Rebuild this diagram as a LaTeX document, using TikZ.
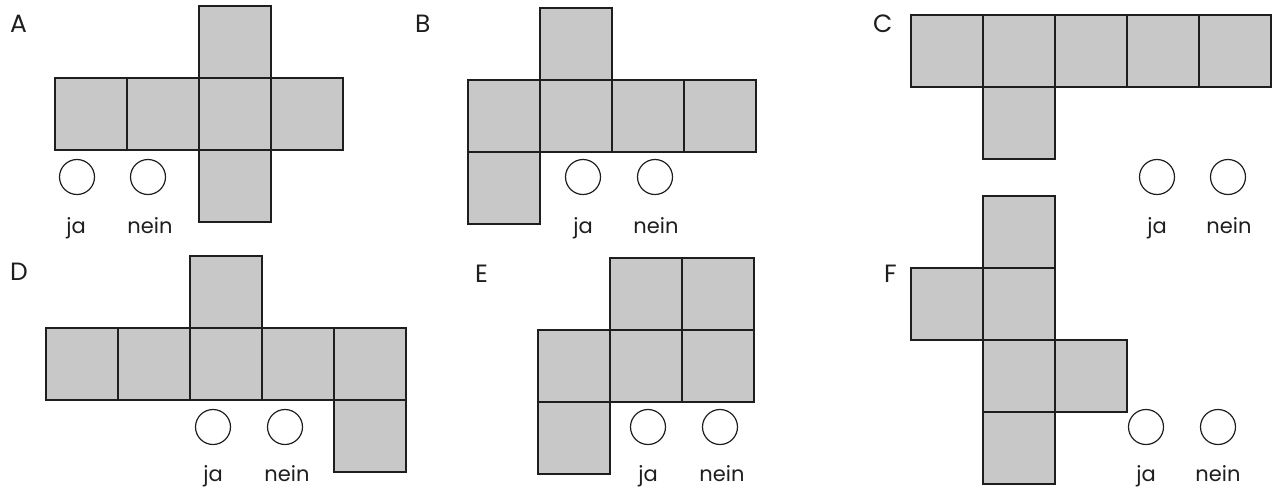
\documentclass[tikz,border=0pt]{standalone}
\usepackage{fontspec}
\setmainfont{Poppins}
\definecolor{facegray}{HTML}{C8C8C8}
\definecolor{inkline}{HTML}{1E1E1E}
\begin{document}
\begin{tikzpicture}[x=1pt,y=-1pt,
  face/.style={draw=inkline,fill=facegray,line width=1.4pt,minimum size=72pt,inner sep=0pt,outer sep=0pt,shape=rectangle},
  tick/.style={draw=inkline,line width=1.2pt,circle,minimum size=35pt,inner sep=0pt},
  lbl/.style={font=\fontsize{21}{25}\selectfont,anchor=base,inner sep=0pt,text=inkline},
  ttl/.style={font=\fontsize{25}{29}\selectfont,anchor=base west,inner sep=0pt,text=inkline}]
\useasboundingbox (0,0) rectangle (1279,488);
% A
\node[ttl] (tA) at (10,32) {A};
\node[face] (a1) at (91,114) {};
\node[face] (a2) at (163,114) {};
\node[face] (a3) at (235,114) {};
\node[face] (a4) at (307,114) {};
\node[face] (a5) at (235,42) {};
\node[face] (a6) at (235,186) {};
\node[tick] (ca1) at (77,177) {};
\node[tick] (ca2) at (148,177) {};
\node[lbl] (ja1) at (76,233) {ja};
\node[lbl] (ne1) at (150,233) {nein};
% B
\node[ttl] (tB) at (415,32) {B};
\node[face] (b1) at (504,116) {};
\node[face] (b2) at (576,116) {};
\node[face] (b3) at (648,116) {};
\node[face] (b4) at (720,116) {};
\node[face] (b5) at (576,44) {};
\node[face] (b6) at (504,188) {};
\node[tick] (cb1) at (583,177) {};
\node[tick] (cb2) at (655,177) {};
\node[lbl] (ja2) at (583,233) {ja};
\node[lbl] (ne2) at (656,233) {nein};
% C
\node[ttl] (tC) at (873,32) {C};
\node[face] (c1) at (947,51) {};
\node[face] (c2) at (1019,51) {};
\node[face] (c3) at (1091,51) {};
\node[face] (c4) at (1163,51) {};
\node[face] (c5) at (1235,51) {};
\node[face] (c6) at (1019,123) {};
\node[tick] (cc1) at (1157,177) {};
\node[tick] (cc2) at (1228,177) {};
\node[lbl] (ja3) at (1157,233) {ja};
\node[lbl] (ne3) at (1229,233) {nein};
% D
\node[ttl] (tD) at (10,280) {D};
\node[face] (d1) at (82,364) {};
\node[face] (d2) at (154,364) {};
\node[face] (d3) at (226,364) {};
\node[face] (d4) at (298,364) {};
\node[face] (d5) at (370,364) {};
\node[face] (d6) at (226,292) {};
\node[face] (d7) at (370,436) {};
\node[tick] (cd1) at (213,427) {};
\node[tick] (cd2) at (285,427) {};
\node[lbl] (ja4) at (213,481) {ja};
\node[lbl] (ne4) at (287,481) {nein};
% E
\node[ttl] (tE) at (475,282) {E};
\node[face] (e1) at (646,294) {};
\node[face] (e2) at (718,294) {};
\node[face] (e3) at (574,366) {};
\node[face] (e4) at (646,366) {};
\node[face] (e5) at (718,366) {};
\node[face] (e6) at (574,438) {};
\node[tick] (ce1) at (648,427) {};
\node[tick] (ce2) at (720,427) {};
\node[lbl] (ja5) at (648,481) {ja};
\node[lbl] (ne5) at (722,481) {nein};
% F
\node[ttl] (tF) at (884,282) {F};
\node[face] (f1) at (1019,232) {};
\node[face] (f2) at (1019,304) {};
\node[face] (f3) at (1019,376) {};
\node[face] (f4) at (1019,448) {};
\node[face] (f5) at (947,304) {};
\node[face] (f6) at (1091,376) {};
\node[tick] (cf1) at (1146,427) {};
\node[tick] (cf2) at (1218,427) {};
\node[lbl] (ja6) at (1146,481) {ja};
\node[lbl] (ne6) at (1218,481) {nein};
\end{tikzpicture}
\end{document}
